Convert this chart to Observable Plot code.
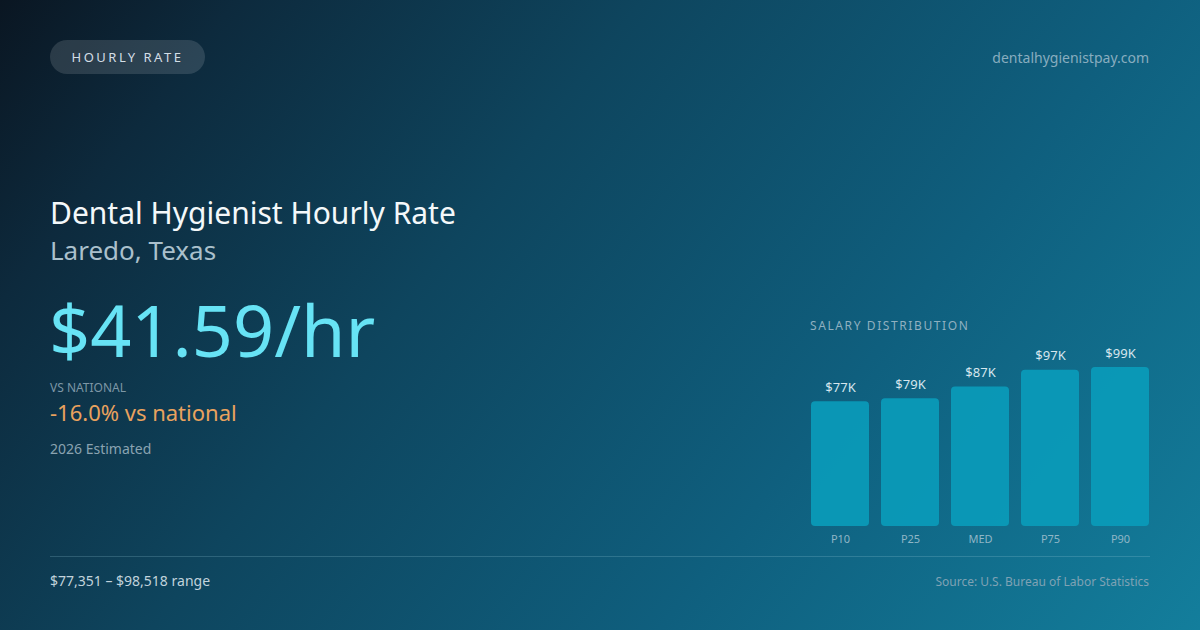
<!DOCTYPE html>
<html>
<head>
<meta charset="utf-8">
<script src="https://cdn.jsdelivr.net/npm/d3@7"></script>
<script src="https://cdn.jsdelivr.net/npm/@observablehq/plot@0.6"></script>
<style>
  html, body { margin: 0; padding: 0; }
  body {
    width: 1200px; height: 630px; overflow: hidden; position: relative;
    font-family: "Noto Sans", "Open Sans", sans-serif;
    background: linear-gradient(128deg, #0a1622 0%, #0d2a3d 14%, #0e455e 38%, #0f5f7e 68%, #137e9c 100%);
  }
  .abs { position: absolute; white-space: nowrap; }
  .pill {
    left: 50px; top: 40px; width: 155px; height: 34px; border-radius: 17px;
    background: rgba(255,255,255,0.13); color: #d3dee6; font-size: 13px;
    letter-spacing: 2.5px; line-height: 34px; text-align: center;
  }
  .site { right: 51px; top: 48px; font-size: 14px; color: #88adbf; }
  .title { left: 50px; top: 192px; font-size: 30px; color: #f4f8fa; }
  .sub { left: 50px; top: 234px; font-size: 26px; color: #aac0cc; line-height: 1.3; }
  .big { left: 49px; top: 286px; font-size: 72px; color: #67e3f5; line-height: 1.2; }
  .vsl { left: 50px; top: 379px; font-size: 12px; color: #7d97a6; }
  .vs { left: 50px; top: 397px; font-size: 22px; color: #e9a25e; }
  .est { left: 50px; top: 439px; font-size: 14px; color: #8aa3b1; }
  .rule { left: 50px; top: 556px; width: 1100px; height: 1px; background: rgba(160,210,225,0.22); }
  .range { left: 50px; top: 571px; font-size: 14px; color: #c1d3dc; }
  .src { right: 51px; top: 573px; font-size: 12px; color: #7fa2b4; }
  .dist { left: 810px; top: 317px; font-size: 12px; color: #8fb0c0; letter-spacing: 1.6px; }
  #chart { left: 800px; top: 330px; }
</style>
</head>
<body>
<div class="abs pill">HOURLY RATE</div>
<div class="abs site">dentalhygienistpay.com</div>
<div class="abs title">Dental Hygienist Hourly Rate</div>
<div class="abs sub">Laredo, Texas</div>
<div class="abs big">$41.59/hr</div>
<div class="abs vsl">VS NATIONAL</div>
<div class="abs vs">-16.0% vs national</div>
<div class="abs est">2026 Estimated</div>
<div class="abs dist">SALARY DISTRIBUTION</div>
<div class="abs" id="chart"></div>
<div class="abs rule"></div>
<div class="abs range">$77,351 – $98,518 range</div>
<div class="abs src">Source: U.S. Bureau of Labor Statistics</div>
<script>
const percentiles = ["P10", "P25", "MED", "P75", "P90"];
const salaries = [77351, 79200, 86507, 96800, 98518];
const valueLabels = ["$77K", "$79K", "$87K", "$97K", "$99K"];

const data = percentiles.map((p, i) => ({p, v: salaries[i], lab: valueLabels[i]}));

const chart = Plot.plot({
  width: 360,
  height: 230,
  marginLeft: 10,
  marginRight: 10,
  marginTop: 0,
  marginBottom: 0,
  style: {background: "transparent", fontFamily: "Noto Sans, sans-serif", overflow: "visible"},
  x: {domain: percentiles, range: [10, 350], paddingInner: 0.17, paddingOuter: 0, axis: null},
  y: {domain: [0, d3.max(salaries)], range: [196, 37], axis: null},
  marks: [
    Plot.barY(data, {x: "p", y: "v", fill: "#0a9bba", fillOpacity: 0.92, rx: 4}),
    Plot.text(data, {x: "p", y: "v", text: "lab", dy: -14, fill: "#d6e6ee", fontSize: 13}),
    Plot.text(data, {x: "p", y: 0, text: "p", dy: 13, fill: "#8fb6c6", fontSize: 11})
  ]
});
document.getElementById("chart").appendChild(chart);
</script>
</body>
</html>
